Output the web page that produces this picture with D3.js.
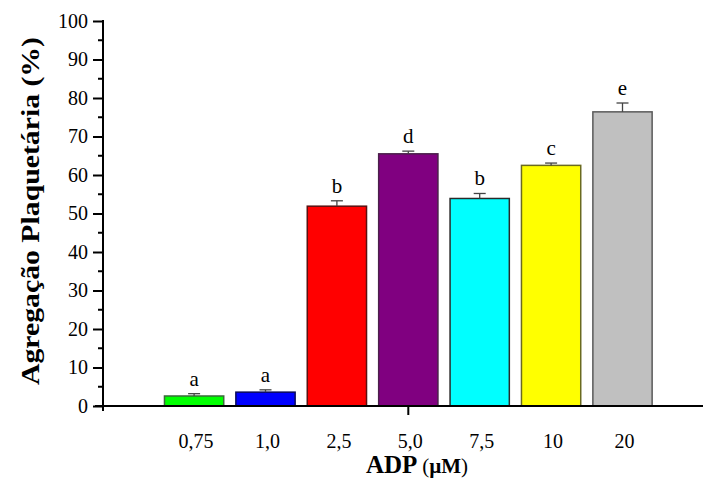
<!DOCTYPE html>
<meta charset="utf-8">
<style>
body { margin: 0; background: #fff; }
svg text { font-family: 'Liberation Serif', 'Times New Roman', Times, serif !important; }
</style>
<svg width="703" height="479"></svg>
<script src="https://d3js.org/d3.v7.min.js"></script>
<script>
// data
var doses = ['0,75', '1,0', '2,5', '5,0', '7,5', '10', '20']
var means = [2.6, 3.6, 51.9, 65.5, 53.9, 62.5, 76.4]
var errors = [0.6, 0.6, 1.4, 0.7, 1.3, 0.6, 2.3]
var letters = ['a', 'a', 'b', 'd', 'b', 'c', 'e']
var fills = ['#00ff00', '#0000ff', '#ff0000', '#800080', '#00ffff', '#ffff00', '#c0c0c0']
var strokes = ['#3a6a3a', '#0a0a5a', '#5a1010', '#4a204a', '#2a2a2a', '#6a6a20', '#5a5a5a']
var yTicks = d3.range(0, 101, 10)

var svg = d3.select('svg')
var x0 = 103, x1 = 703, y0 = 406, yTop = 21

var x = d3.scaleBand()
  .domain(doses)
  .range([158.4, 658.2])
  .paddingInner(0.17)
  .paddingOuter(0.085)

var y = d3.scaleLinear().domain([0, 100]).range([y0, yTop])

// bars
var bars = svg.append('g')
bars.selectAll('rect')
  .data(doses)
  .enter().append('rect')
  .attr('x', function (d) { return x(d) })
  .attr('width', x.bandwidth())
  .attr('y', function (d, i) { return y(means[i]) })
  .attr('height', function (d, i) { return y0 - y(means[i]) })
  .attr('fill', function (d, i) { return fills[i] })
  .attr('stroke', function (d, i) { return strokes[i] })
  .attr('stroke-width', 1.5)

// error bars (upper only)
var err = svg.append('g').attr('stroke', '#444').attr('stroke-width', 1.3)
doses.forEach(function (d, i) {
  var cx = x(d) + x.bandwidth() / 2
  err.append('line')
    .attr('x1', cx).attr('x2', cx)
    .attr('y1', y(means[i])).attr('y2', y(means[i] + errors[i]))
  err.append('line')
    .attr('x1', cx - 6).attr('x2', cx + 6)
    .attr('y1', y(means[i] + errors[i])).attr('y2', y(means[i] + errors[i]))
})

// significance letters
svg.append('g').selectAll('text')
  .data(doses)
  .enter().append('text')
  .attr('x', function (d) { return x(d) + x.bandwidth() / 2 })
  .attr('y', function (d, i) { return y(means[i] + errors[i]) - 8 })
  .attr('text-anchor', 'middle')
  .attr('font-size', 21)
  .text(function (d, i) { return letters[i] })

// y axis
var yAxis = d3.axisLeft(y).tickValues(yTicks).tickSize(10).tickPadding(5)
var gy = svg.append('g').attr('transform', 'translate(' + x0 + ',0)').call(yAxis)
gy.select('.domain').remove()
gy.selectAll('.tick line').attr('stroke-width', 2)
gy.selectAll('.tick text').attr('font-size', 20).attr('fill', '#000')
gy.append('g').selectAll('line')
  .data(d3.range(5, 100, 10))
  .enter().append('line')
  .attr('x1', -5).attr('x2', 0)
  .attr('y1', function (d) { return y(d) }).attr('y2', function (d) { return y(d) })
  .attr('stroke', '#000').attr('stroke-width', 2)
svg.append('line')
  .attr('x1', x0).attr('x2', x0)
  .attr('y1', yTop - 1).attr('y2', y0 + 5)
  .attr('stroke', '#000').attr('stroke-width', 2)

// x axis
svg.append('line')
  .attr('x1', x0 - 8).attr('x2', x1)
  .attr('y1', y0).attr('y2', y0)
  .attr('stroke', '#000').attr('stroke-width', 2)
var mid = x('5,0') + x.bandwidth() / 2
svg.append('line')
  .attr('x1', mid).attr('x2', mid)
  .attr('y1', y0).attr('y2', y0 + 9)
  .attr('stroke', '#000').attr('stroke-width', 2)

svg.append('g').selectAll('text')
  .data(doses)
  .enter().append('text')
  .attr('x', function (d) { return x(d) + x.bandwidth() / 2 + 2 })
  .attr('y', 448)
  .attr('text-anchor', 'middle')
  .attr('font-size', 20)
  .text(function (d) { return d })

// axis titles
var xt = svg.append('text')
  .attr('x', 417).attr('y', 473)
  .attr('text-anchor', 'middle')
  .attr('font-weight', 'bold')
  .attr('font-size', 25)
xt.append('tspan').text('ADP ')
xt.append('tspan').attr('font-size', 21).attr('font-weight', 'normal').text('(')
xt.append('tspan').attr('font-size', 21).text('µM')
xt.append('tspan').attr('font-size', 21).attr('font-weight', 'normal').text(')')

svg.append('text')
  .attr('transform', 'translate(39,211) rotate(-90)')
  .attr('text-anchor', 'middle')
  .attr('font-weight', 'bold')
  .attr('font-size', 25)
  .attr('textLength', 348)
  .attr('lengthAdjust', 'spacingAndGlyphs')
  .text('Agregação Plaquetária (%)')
</script>
